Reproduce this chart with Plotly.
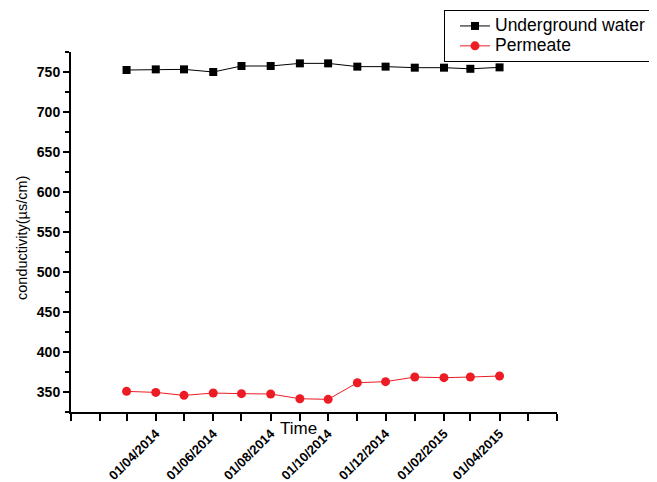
import plotly.graph_objects as go

dates = ["2014-03-01", "2014-04-01", "2014-05-01", "2014-06-01", "2014-07-01",
         "2014-08-01", "2014-09-01", "2014-10-01", "2014-11-01", "2014-12-01",
         "2015-01-01", "2015-02-01", "2015-03-01", "2015-04-01"]
underground = [752.5, 753.3, 753.3, 750.0, 757.5, 757.5, 760.8,
               760.8, 756.7, 756.7, 755.4, 755.4, 754.0, 755.8]
permeate = [350.8, 349.5, 345.8, 348.7, 347.9, 347.5, 341.6,
            340.8, 361.6, 362.9, 368.7, 367.9, 368.7, 370.0]

series_names = ["Underground water", "Permeate"]

tick_dates = ["2014-01-01", "2014-02-01", "2014-03-01", "2014-04-01", "2014-05-01",
              "2014-06-01", "2014-07-01", "2014-08-01", "2014-09-01", "2014-10-01",
              "2014-11-01", "2014-12-01", "2015-01-01", "2015-02-01", "2015-03-01",
              "2015-04-01", "2015-05-01", "2015-06-01"]
tick_labels = ["", "", "", "01/04/2014", "", "01/06/2014", "", "01/08/2014", "",
               "01/10/2014", "", "01/12/2014", "", "01/02/2015", "", "01/04/2015", "", ""]

FONT = "Liberation Sans, Arial, sans-serif"
RED = "#ed1c24"

# page body has an 8px margin: figure origin is at (8, 8) in the window
OFF = 8
W, H = 657 - OFF, 482 - OFF
PL, PR, PT, PB = 71 - OFF, 557 - OFF, 52 - OFF, 412 - OFF  # plot area in figure px
PW, PH = PR - PL, PB - PT


def px_x(x):
    return (x - OFF - PL) / PW


def px_y(y):
    return (PB - (y - OFF)) / PH


def legend_name(s):
    # larger visible text while keeping the compact row height of the reference
    return '<span style="font-size:17.5px">' + s + '</span>'


fig = go.Figure()
fig.add_trace(go.Scatter(
    x=dates, y=underground, name=legend_name(series_names[0]), mode="lines+markers",
    line=dict(color="black", width=1),
    marker=dict(symbol="square", size=8, color="black"),
))
fig.add_trace(go.Scatter(
    x=dates, y=permeate, name=legend_name(series_names[1]), mode="lines+markers",
    line=dict(color=RED, width=1),
    marker=dict(symbol="circle", size=9, color=RED),
))

fig.update_layout(
    width=W, height=H,
    margin=dict(l=PL, r=W - PR, t=PT, b=H - PB, autoexpand=False),
    paper_bgcolor="white", plot_bgcolor="white",
    showlegend=True,
    legend=dict(
        x=px_x(444), y=px_y(10), xanchor="left", yanchor="top",
        bordercolor="black", borderwidth=1, bgcolor="white",
        font=dict(family=FONT, size=13, color="black"),
        tracegroupgap=0, itemsizing="trace", indentation=10,
    ),
    xaxis=dict(
        type="date", range=["2014-01-01", "2015-06-01"],
        tickmode="array", tickvals=tick_dates, ticktext=tick_labels,
        tickangle=-45, ticks="outside", ticklen=7, tickwidth=1.5, tickcolor="black",
        showline=True, linecolor="black", linewidth=2, showgrid=False, zeroline=False,
        tickfont=dict(family=FONT, size=13, color="black", weight="bold"),
        automargin=False,
    ),
    yaxis=dict(
        range=[325, 775], tickmode="linear", tick0=350, dtick=50,
        ticks="outside", ticklen=6, tickwidth=1.5, tickcolor="black",
        minor=dict(dtick=25, tick0=325, ticks="outside", ticklen=4, tickwidth=1.5, tickcolor="black"),
        showline=True, linecolor="black", linewidth=2, showgrid=False, zeroline=False,
        tickfont=dict(family=FONT, size=14, color="black", weight="bold"),
        automargin=False,
    ),
    annotations=[
        dict(text="Time", xref="paper", yref="paper",
             x=px_x(298), y=px_y(428), xanchor="center", yanchor="middle",
             showarrow=False, font=dict(family=FONT, size=17, color="black")),
        dict(text="conductivity(µs/cm)", xref="paper", yref="paper",
             x=px_x(22), y=px_y(238), xanchor="center", yanchor="middle",
             textangle=-90, showarrow=False, font=dict(family=FONT, size=14.5, color="black")),
    ],
)

fig.write_html("out.html")
